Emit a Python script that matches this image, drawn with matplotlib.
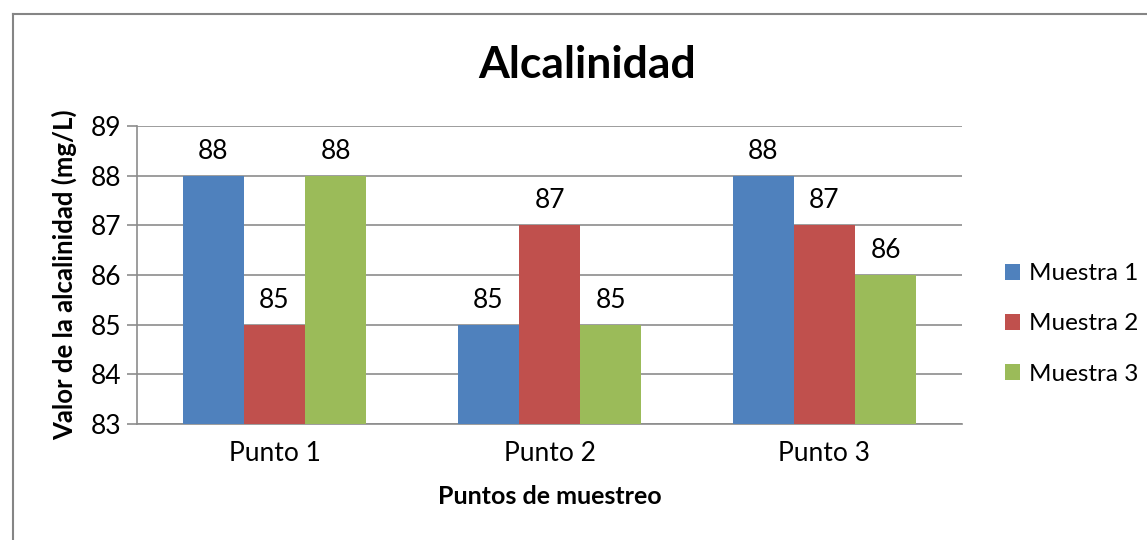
import matplotlib
matplotlib.use("Agg")
import matplotlib.pyplot as plt
import numpy as np
from matplotlib.lines import Line2D

plt.rcParams['font.family'] = ['Lato', 'DejaVu Sans']

categories = ["Punto 1", "Punto 2", "Punto 3"]
series_names = ["Muestra 1", "Muestra 2", "Muestra 3"]
muestra_1 = [88, 85, 88]
muestra_2 = [85, 87, 87]
muestra_3 = [88, 85, 86]
y_ticks = [83, 84, 85, 86, 87, 88, 89]

colors = ["#4F81BD", "#C0504D", "#9BBB59"]

W, H = 1147, 540
fig = plt.figure(figsize=(W / 100, H / 100), dpi=100)
ax = fig.add_axes([137 / W, 1 - 424 / H, (962 - 137) / W, (424 - 126) / H])

x = np.arange(len(categories))
bw = 0.223
offsets = [-bw, 0, bw]
for vals, name, col, off in zip([muestra_1, muestra_2, muestra_3], series_names, colors, offsets):
    bars = ax.bar(x + off, np.array(vals) - 83, bottom=83, width=bw, color=col, label=name, zorder=3)
    for b, v in zip(bars, vals):
        ax.text(b.get_x() + b.get_width() / 2, v + 0.24, f"{v}", ha="center", va="bottom",
                fontsize=19, color="black")

ax.set_xlim(-0.5, 2.5)
ax.set_ylim(83, 89)
ax.set_yticks(y_ticks)
ax.set_yticklabels([str(t) for t in y_ticks], fontsize=19)
ax.set_xticks(x)
ax.set_xticklabels(categories, fontsize=19)
ax.yaxis.grid(True, color="#8C8C8C", linewidth=1.2, zorder=0)
ax.set_axisbelow(True)
for s in ["top", "right"]:
    ax.spines[s].set_visible(False)
ax.spines["left"].set_color("#8C8C8C")
ax.spines["bottom"].set_color("#8C8C8C")
ax.spines["left"].set_linewidth(1.2)
ax.spines["bottom"].set_linewidth(1.2)
ax.tick_params(axis="y", length=7, color="#8C8C8C", width=1.2, pad=4)
ax.tick_params(axis="x", length=0, pad=12)

ax.set_xlabel("Puntos de muestreo", fontsize=18, fontweight="bold", labelpad=14)
ax.set_ylabel("Valor de la alcalinidad (mg/L)", fontsize=18.5, fontweight="bold", labelpad=10)

fig.text(587 / W, 1 - 65 / H, "Alcalinidad", ha="center", va="center", fontsize=32, fontweight="bold")

leg = fig.legend(*ax.get_legend_handles_labels(), loc="center left",
                 bbox_to_anchor=(1005 / W, 1 - 324 / H), bbox_transform=fig.transFigure,
                 frameon=False, fontsize=17.5, borderpad=0, borderaxespad=0,
                 handlelength=0.63, handleheight=0.63, handletextpad=0.35, labelspacing=1.2)

# outer chart frame (left and top edges)
fig.add_artist(Line2D([12.5 / W, 12.5 / W], [0, 1 - 13.5 / H], transform=fig.transFigure,
                      color="#858585", linewidth=1.5))
fig.add_artist(Line2D([12.5 / W, 1], [1 - 13.5 / H, 1 - 13.5 / H], transform=fig.transFigure,
                      color="#858585", linewidth=1.5))

fig.savefig("out.png", dpi=100, facecolor="white")
